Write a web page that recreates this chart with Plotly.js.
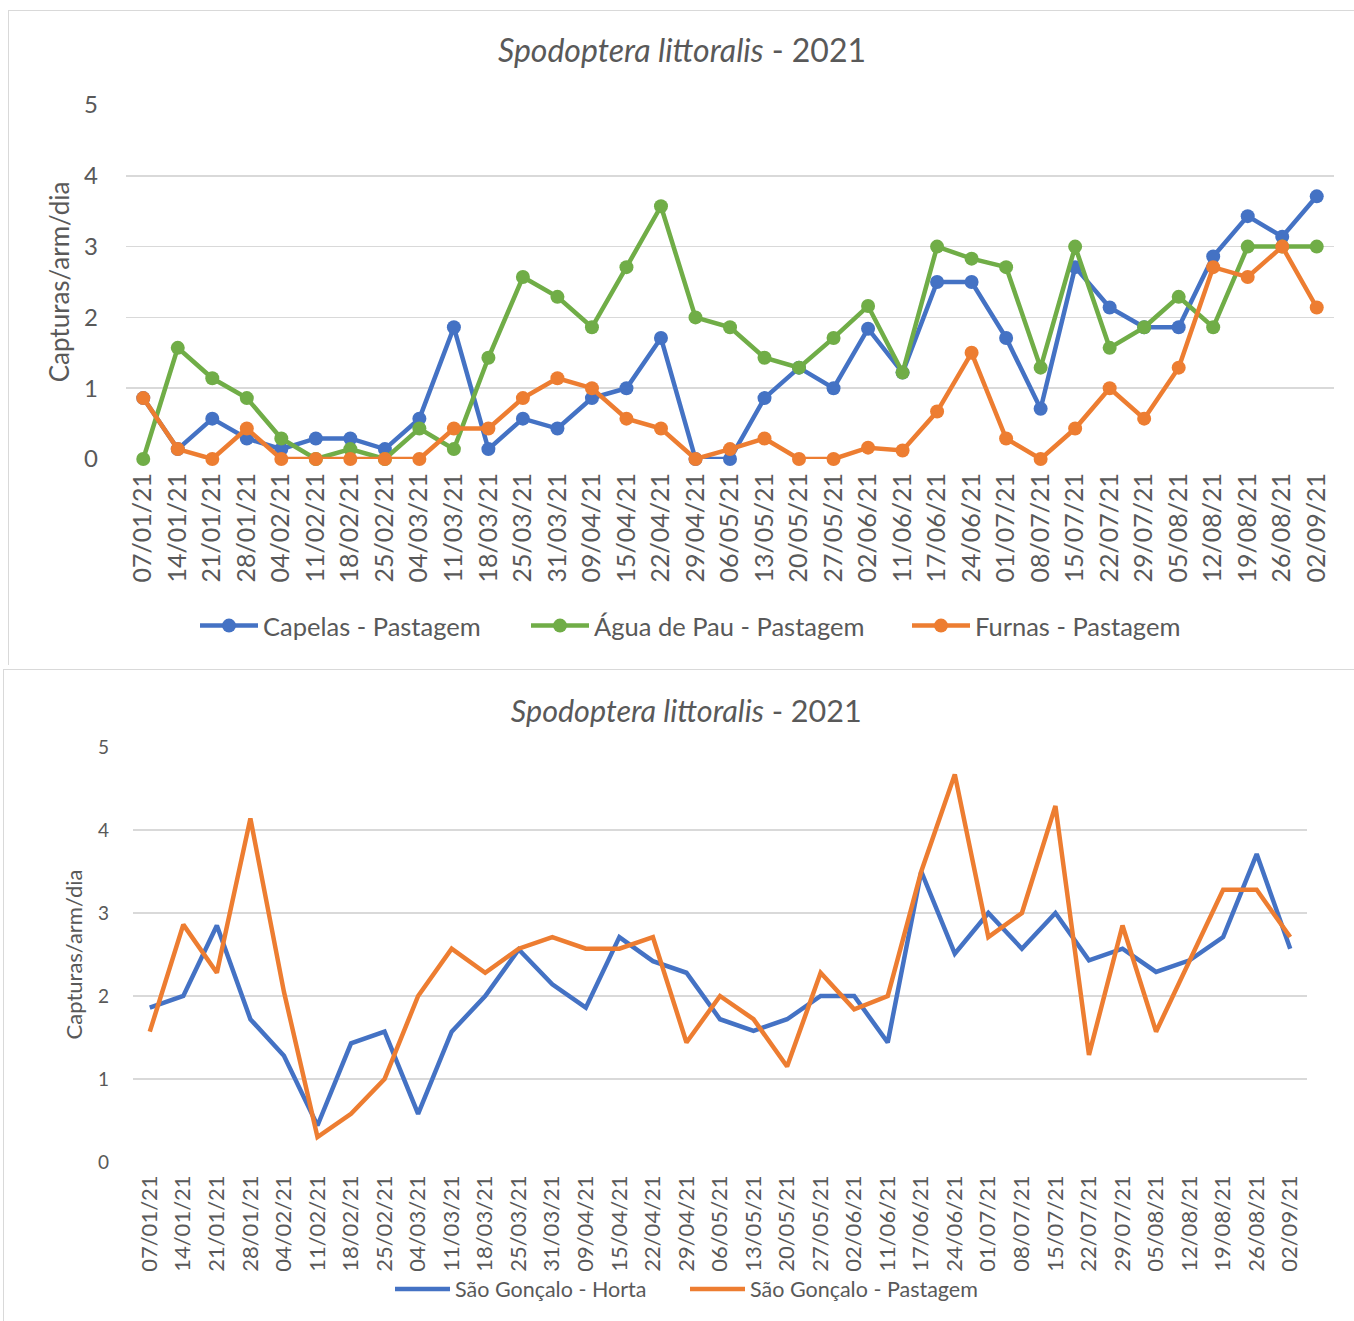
<!DOCTYPE html>
<html>
<head>
<meta charset="utf-8">
<script src="https://cdn.plot.ly/plotly-3.0.1.min.js"></script>
<style>
  html, body { margin: 0; padding: 0; background: #ffffff; }
  body { width: 1354px; height: 1321px; position: relative; overflow: hidden; }
  #chart1 { position: absolute; left: 8px; top: 10px; width: 1346px; height: 655px; border: 1px solid #D9D9D9; box-sizing: border-box; }
  #chart2 { position: absolute; left: 3px; top: 669px; width: 1351px; height: 652px; border: 1px solid #D9D9D9; box-sizing: border-box; }
</style>
</head>
<body>
<div id="chart1"></div>
<div id="chart2"></div>
<script>
const dates = ["07/01/21","14/01/21","21/01/21","28/01/21","04/02/21","11/02/21","18/02/21","25/02/21","04/03/21","11/03/21","18/03/21","25/03/21","31/03/21","09/04/21","15/04/21","22/04/21","29/04/21","06/05/21","13/05/21","20/05/21","27/05/21","02/06/21","11/06/21","17/06/21","24/06/21","01/07/21","08/07/21","15/07/21","22/07/21","29/07/21","05/08/21","12/08/21","19/08/21","26/08/21","02/09/21"];

const capelasPastagem = [0.86,0.14,0.57,0.29,0.14,0.29,0.29,0.14,0.57,1.86,0.14,0.57,0.43,0.86,1.0,1.71,0,0,0.86,1.29,1.0,1.84,1.22,2.5,2.5,1.71,0.71,2.71,2.14,1.86,1.86,2.86,3.43,3.14,3.71];
const aguaDePauPastagem = [0,1.57,1.14,0.86,0.29,0,0.14,0,0.43,0.14,1.43,2.57,2.29,1.86,2.71,3.57,2.0,1.86,1.43,1.29,1.71,2.16,1.22,3.0,2.83,2.71,1.29,3.0,1.57,1.86,2.29,1.86,3.0,3.0,3.0];
const furnasPastagem = [0.86,0.14,0,0.43,0,0,0,0,0,0.43,0.43,0.86,1.14,1.0,0.57,0.43,0,0.14,0.29,0,0,0.16,0.12,0.67,1.5,0.29,0,0.43,1.0,0.57,1.29,2.71,2.57,3.0,2.14];

const saoGoncaloHorta = [1.86,2.0,2.85,1.72,1.28,0.44,1.43,1.57,0.58,1.57,2.0,2.56,2.14,1.86,2.71,2.42,2.28,1.72,1.58,1.72,2.0,2.0,1.44,3.5,2.51,3.0,2.57,3.0,2.43,2.57,2.29,2.43,2.71,3.71,2.57];
const saoGoncaloPastagem = [1.57,2.86,2.28,4.14,2.05,0.3,0.58,1.0,2.0,2.57,2.28,2.57,2.71,2.57,2.57,2.71,1.44,2.0,1.72,1.15,2.28,1.84,2.0,3.5,4.67,2.71,3.0,4.29,1.29,2.85,1.57,2.43,3.28,3.28,2.71];

const titleText = "<i>Spodoptera littoralis</i> - 2021";
const yTitle = "Capturas/arm/dia";
const yTicks = [0,1,2,3,4,5];

const BLUE = "#4472C4", ORANGE = "#ED7D31", GREEN = "#70AD47";
const TXT = "#595959", GRID = "#D9D9D9";
const FONT = "Lato, 'Open Sans', sans-serif";

function markerTrace(name, y, color, leg) {
  return { type: "scatter", mode: "lines+markers", name: name, x: dates, y: y,
    line: { color: color, width: 4.5 },
    marker: { color: color, size: 14 },
    cliponaxis: false, legend: leg,
    hoverinfo: "skip" };
}
function lineTrace(name, y, color, leg) {
  return { type: "scatter", mode: "lines", name: name, x: dates, y: y,
    line: { color: color, width: 4.5 },
    cliponaxis: false, legend: leg,
    hoverinfo: "skip" };
}

function legendBox(xpx, divLeft, divW, ypx, divTop, divH, size, itemw) {
  return { orientation: "h", xref: "container", yref: "container",
    x: (xpx - divLeft) / divW, xanchor: "left",
    y: 1 - (ypx - divTop) / divH, yanchor: "middle",
    font: { size: size, color: TXT, family: FONT }, itemwidth: itemw,
    bgcolor: "rgba(0,0,0,0)" };
}

const data1 = [
  markerTrace("Capelas - Pastagem", capelasPastagem, BLUE, "legend"),
  markerTrace("Água de Pau - Pastagem", aguaDePauPastagem, GREEN, "legend2"),
  markerTrace("Furnas - Pastagem", furnasPastagem, ORANGE, "legend3")
];

const layout1 = {
  width: 1346, height: 655,
  paper_bgcolor: "#ffffff", plot_bgcolor: "#ffffff",
  margin: { l: 117, r: 21, t: 94, b: 207 },
  font: { family: FONT, color: TXT },
  title: { text: titleText, font: { size: 32, color: TXT, family: FONT },
    x: 0.5, xref: "container", xanchor: "center", y: 1 - 40/655, yref: "container", yanchor: "middle" },
  xaxis: { type: "category", range: [-0.5, 34.5], tickangle: -90, showgrid: false, zeroline: false,
    showline: false, ticks: "", tickfont: { size: 25, color: TXT, family: FONT }, ticklabelstandoff: 8 },
  yaxis: { range: [0, 5], tickvals: yTicks, showgrid: true, gridcolor: GRID, gridwidth: 1.5, zeroline: false,
    showline: false, ticks: "", tickfont: { size: 24, color: TXT, family: FONT }, ticklabelstandoff: 27,
    title: { text: yTitle, font: { size: 26, color: TXT, family: FONT }, standoff: 6 } },
  showlegend: true,
  legend:  legendBox(194, 8, 1346, 625, 10, 655, 25.5, 58),
  legend2: legendBox(525, 8, 1346, 625, 10, 655, 25.5, 58),
  legend3: legendBox(906, 8, 1346, 625, 10, 655, 25.5, 58)
};

const data2 = [
  lineTrace("São Gonçalo - Horta", saoGoncaloHorta, BLUE, "legend"),
  lineTrace("São Gonçalo - Pastagem", saoGoncaloPastagem, ORANGE, "legend2")
];

const layout2 = {
  width: 1351, height: 652,
  paper_bgcolor: "#ffffff", plot_bgcolor: "#ffffff",
  margin: { l: 129, r: 48, t: 77, b: 160 },
  font: { family: FONT, color: TXT },
  title: { text: titleText, font: { size: 30.5, color: TXT, family: FONT },
    x: 0.505, xref: "container", xanchor: "center", y: 1 - 41/652, yref: "container", yanchor: "middle" },
  xaxis: { type: "category", range: [-0.5, 34.5], tickangle: -90, showgrid: false, zeroline: false,
    showline: false, ticks: "", tickfont: { size: 22, color: TXT, family: FONT }, ticklabelstandoff: 8 },
  yaxis: { range: [0, 5], tickvals: yTicks, showgrid: true, gridcolor: GRID, gridwidth: 1.5, zeroline: false,
    showline: false, ticks: "", tickfont: { size: 19, color: TXT, family: FONT }, ticklabelstandoff: 23,
    title: { text: yTitle, font: { size: 22, color: TXT, family: FONT }, standoff: 9 } },
  showlegend: true,
  legend:  legendBox(389, 3, 1351, 1288, 669, 652, 21.5, 55),
  legend2: legendBox(684, 3, 1351, 1288, 669, 652, 21.5, 55)
};

const config = { staticPlot: true, displayModeBar: false };
Plotly.newPlot("chart1", data1, layout1, config);
Plotly.newPlot("chart2", data2, layout2, config);
</script>
</body>
</html>
